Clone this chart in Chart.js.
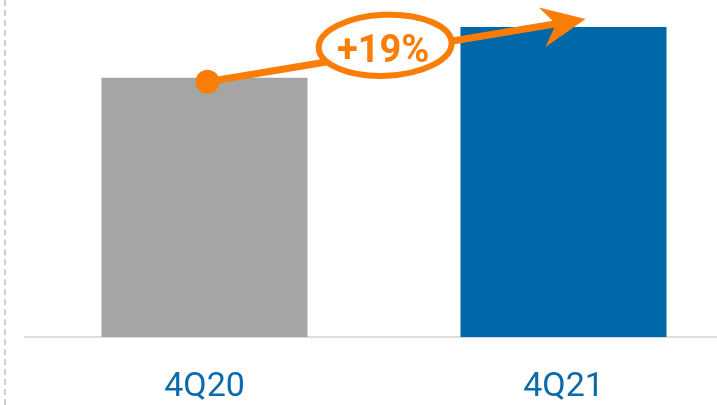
<!DOCTYPE html>
<html>
<head>
<meta charset="utf-8">
<script src="https://cdn.jsdelivr.net/npm/chart.js@4.4.1/dist/chart.umd.min.js"></script>
<style>
    html, body { margin: 0; padding: 0; background: #fff; overflow: hidden; }
    #wrap { position: relative; width: 717px; height: 405px; overflow: hidden; }
    #edge { position: absolute; left: 4px; top: 0; height: 405px; border-left: 2px dashed #cfcfcf; }
    #box { position: absolute; left: 0; top: 0; width: 760px; height: 405px; }
</style>
</head>
<body>
<div id="wrap">
    <div id="edge"></div>
    <div id="box"><canvas id="growthChart"></canvas></div>
</div>
<script>
// Datos del gráfico
const categorias = ['4Q20', '4Q21'];
const valores = [100, 119.6];
const coloresBarras = ['#a5a5a5', '#0068a9'];
const etiquetaCrecimiento = '+19%';

const NARANJA = '#f97d06';

// Plugin: flecha de crecimiento con elipse
const growthArrow = {
    id: 'growthArrow',
    afterDatasetsDraw(chart) {
        const meta = chart.getDatasetMeta(0);
        const b0 = meta.data[0], b1 = meta.data[1];
        if (!b0 || !b1) return;
        const ctx = chart.ctx;

        const x0 = b0.x + 3, y0 = b0.y + 4;
        const x1 = b1.x + 22, y1 = b1.y - 8;
        const ang = Math.atan2(y1 - y0, x1 - x0);

        ctx.save();
        ctx.strokeStyle = NARANJA;
        ctx.fillStyle = NARANJA;
        ctx.lineWidth = 7;

        // linea principal
        ctx.beginPath();
        ctx.moveTo(x0, y0);
        ctx.lineTo(x1 - 25 * Math.cos(ang), y1 - 25 * Math.sin(ang));
        ctx.stroke();

        // punto inicial
        ctx.beginPath();
        ctx.arc(x0, y0, 12, 0, Math.PI * 2);
        ctx.fill();

        // punta de flecha
        ctx.translate(x1, y1);
        ctx.rotate(ang);
        ctx.beginPath();
        ctx.moveTo(0, 0);
        ctx.lineTo(-44, -19);
        ctx.lineTo(-30, 0);
        ctx.lineTo(-44, 21);
        ctx.closePath();
        ctx.fill();
        ctx.setTransform(1, 0, 0, 1, 0, 0);
        ctx.scale(chart.currentDevicePixelRatio, chart.currentDevicePixelRatio);

        // elipse
        const t = 0.47;
        const cx = x0 + (x1 - x0) * t;
        const cy = y0 + (y1 - y0) * t - 7;
        ctx.beginPath();
        ctx.ellipse(cx, cy, 66.5, 30.5, -0.04, 0, Math.PI * 2);
        ctx.fillStyle = '#fff';
        ctx.fill();
        ctx.lineWidth = 6;
        ctx.stroke();

        ctx.fillStyle = NARANJA;
        ctx.font = "bold 38px Roboto, 'Noto Sans', sans-serif";
        ctx.textAlign = 'center';
        ctx.textBaseline = 'middle';
        ctx.fillText(etiquetaCrecimiento, cx - 2, cy + 7);
        ctx.restore();
    }
};

new Chart(document.getElementById('growthChart'), {
    type: 'bar',
    data: {
        labels: categorias,
        datasets: [{
            data: valores,
            backgroundColor: coloresBarras,
            borderWidth: 0,
            categoryPercentage: 1,
            barPercentage: 0.574
        }]
    },
    options: {
        responsive: true, maintainAspectRatio: false,
        animation: false,
        layout: { padding: { left: 25, right: 17, top: 0, bottom: -33 } },
        plugins: { legend: { display: false }, tooltip: { enabled: false } },
        scales: {
            y: { display: false, min: 0, max: 130 },
            x: {
                grid: { display: false, drawTicks: false },
                border: { display: true, color: '#dddddd', width: 2 },
                ticks: {
                    color: '#0b6aa9',
                    padding: 30,
                    font: { family: 'Roboto', size: 34 }
                }
            }
        }
    },
    plugins: [growthArrow]
});
</script>
</body>
</html>
